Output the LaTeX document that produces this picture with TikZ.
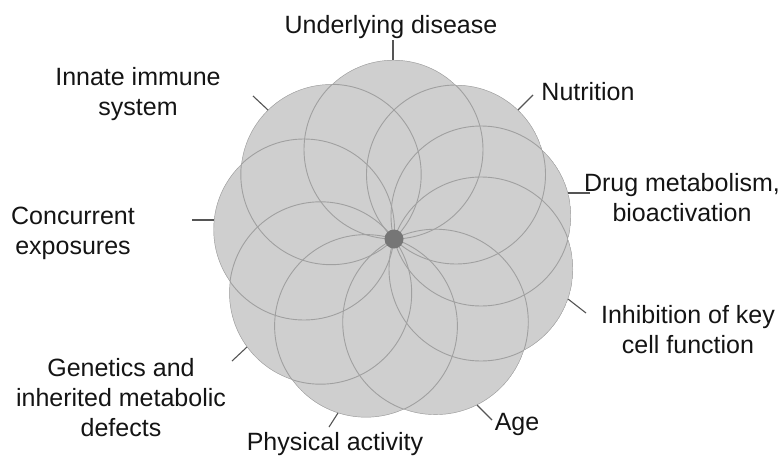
\documentclass[tikz,border=0pt]{standalone}
\usepackage{fontspec}
\setmainfont{Liberation Sans}
\definecolor{petal}{RGB}{207,207,207}
\definecolor{petalline}{RGB}{160,160,160}
\definecolor{hub}{RGB}{118,118,118}
\definecolor{tickc}{RGB}{85,85,85}
\definecolor{txt}{RGB}{20,20,20}
\begin{document}
\begin{tikzpicture}[x=1pt,y=-1pt,
  lbl/.style={font=\fontsize{25}{30}\selectfont, text=txt, align=center, inner sep=0pt},
  tickline/.style={draw=tickc, line width=1.1pt},
  petalfill/.style={fill=petal},
  petaledge/.style={draw=petalline, line width=0.9pt}]
\useasboundingbox (0,0) rectangle (782,458);
% centre and petal centres
\coordinate (O) at (394,239);
\foreach \n/\x/\y in {cU/393.5/149.5, cN/456/174.5, cD/481/216, cI/481/269, cA/435.5/322, cP/366/326, cG/320.5/293, cC/304/229.5, cM/331/174.5}
  \coordinate (\n) at (\x,\y);
% fills
\foreach \n/\r in {cU/89.5, cN/89.5, cD/90, cI/92, cA/92.8, cP/91.4, cG/91.2, cC/90.5, cM/90.2}
  \path[petalfill] (\n) circle[radius=\r pt];
% outlines, kept inside the union of the petals
\begin{scope}
  \clip (cU) circle[radius=89.5pt] (cN) circle[radius=89.5pt] (cD) circle[radius=90pt]
        (cI) circle[radius=92pt] (cA) circle[radius=92.8pt] (cP) circle[radius=91.4pt]
        (cG) circle[radius=91.2pt] (cC) circle[radius=90.5pt] (cM) circle[radius=90.2pt];
  \foreach \n/\r in {cU/89.5, cN/89.5, cD/90, cI/92, cA/92.8, cP/91.4, cG/91.2, cC/90.5, cM/90.2}
    \path[petaledge] (\n) circle[radius=\r pt];
\end{scope}
\node[circle, fill=hub, minimum size=19pt, inner sep=0pt] (hubdot) at (O) {};
% tick end points
\coordinate (tU1) at (393,60);  \coordinate (tU2) at (393,40);
\coordinate (tN1) at (518,110); \coordinate (tN2) at (533,95);
\coordinate (tD1) at (568,193); \coordinate (tD2) at (590,193);
\coordinate (tI1) at (568,299); \coordinate (tI2) at (586,313);
\coordinate (tA1) at (477,405); \coordinate (tA2) at (492,420);
\coordinate (tP1) at (338,413); \coordinate (tP2) at (329,427);
\coordinate (tG1) at (247,347); \coordinate (tG2) at (232,361);
\coordinate (tC1) at (214,220); \coordinate (tC2) at (192,220);
\coordinate (tM1) at (268,110); \coordinate (tM2) at (253,96);
\foreach \t in {U,N,D,I,A,P,G,C,M}
  \draw[tickline] (t\t1) -- (t\t2);
% labels
\node[lbl] (lU) at (391,27) {Underlying disease};
\node[lbl] (lN) at (588,92) {Nutrition};
\node[lbl] (lD) at (682,198) {Drug metabolism,\\bioactivation};
\node[lbl] (lI) at (688,330) {Inhibition of key\\cell function};
\node[lbl] (lA) at (517,424) {Age};
\node[lbl] (lP) at (335,444) {Physical activity};
\node[lbl] (lG) at (121,398) {Genetics and\\inherited metabolic\\defects};
\node[lbl] (lC) at (73,233) {Concurrent\\exposures};
\node[lbl] (lM) at (138,94) {Innate immune\\system};
\end{tikzpicture}
\end{document}
